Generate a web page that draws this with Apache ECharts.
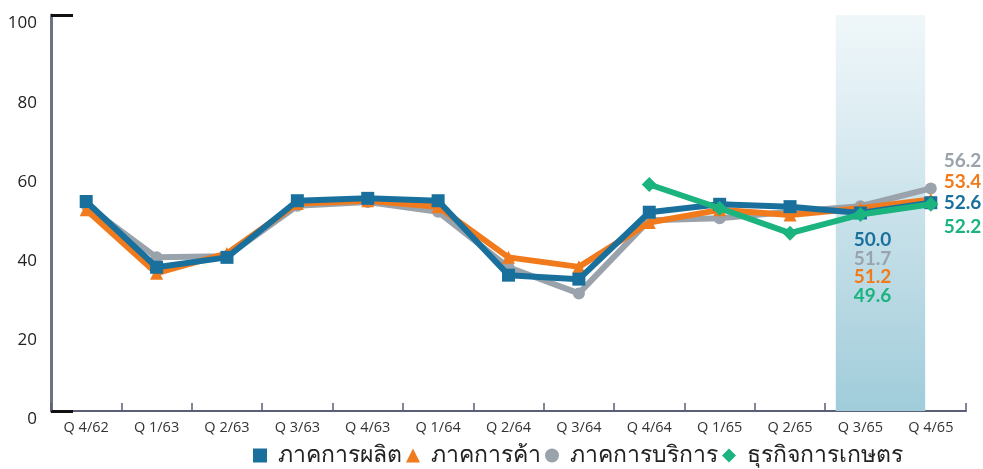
<!DOCTYPE html>
<html>
<head>
<meta charset="utf-8">
<script src="https://cdn.jsdelivr.net/npm/echarts@6/dist/echarts.min.js"></script>
<style>html,body{margin:0;padding:0;background:#fff}#c{width:983px;height:469px}</style>
</head>
<body>
<div id="c"></div>
<script>
const categories = ['Q 4/62','Q 1/63','Q 2/63','Q 3/63','Q 4/63','Q 1/64','Q 2/64','Q 3/64','Q 4/64','Q 1/65','Q 2/65','Q 3/65','Q 4/65'];
const seriesNames = ['ภาคการผลิต','ภาคการค้า','ภาคการบริการ','ธุรกิจการเกษตร'];
const manufacturing = [52.9, 36.3, 38.8, 53.1, 53.7, 53.1, 34.3, 33.3, 50.2, 52.2, 51.6, 50.0, 52.6];
const trade         = [50.8, 34.8, 39.8, 52.4, 53.1, 51.6, 38.8, 36.4, 47.6, 50.8, 49.5, 51.2, 53.4];
const services      = [52.0, 38.8, 39.1, 51.8, 52.8, 50.3, 36.3, 29.7, 48.2, 48.7, 50.3, 51.7, 56.2];
const agriculture   = [null, null, null, null, null, null, null, null, 57.2, 51.2, 44.9, 49.6, 52.2];
const yTicks = [0, 20, 40, 60, 80, 100];
const highlightRange = [11.15, 12.42];

const colors = ['#19709c', '#f07a1c', '#9aa3ac', '#1bb47f'];
const symbols = ['rect', 'triangle', 'circle', 'diamond'];
const symbolSizes = [13, 13, 12, 15];
const zs = [4, 3, 2, 5];
// label offsets for the two last quarters [Q3/65, Q4/65]
const labelOffsets = [
  [[12, 27], [13, 0]],
  [[12, 69], [13, -18]],
  [[12, 53], [13, -28]],
  [[12, 81], [13, 23]]
];
const allData = [manufacturing, trade, services, agriculture];

function buildData(arr, si) {
  return arr.map((v, i) => {
    if (v == null) return null;
    const n = arr.length;
    if (i >= n - 2) {
      const off = labelOffsets[si][i - (n - 2)];
      return {
        value: v,
        label: {
          show: true,
          position: 'inside',
          offset: off,
          align: i === n - 1 ? 'left' : 'center',
          verticalAlign: 'middle',
          formatter: (p) => p.value.toFixed(1),
          color: colors[si],
          fontSize: 19,
          fontWeight: 'bold',
          fontFamily: 'Lato, "Open Sans", sans-serif'
        }
      };
    }
    return v;
  });
}

const series = allData.map((arr, si) => ({
  name: seriesNames[si],
  type: 'line',
  data: buildData(arr, si),
  z: zs[si],
  symbol: symbols[si],
  symbolSize: symbolSizes[si],
  showAllSymbol: true,
  connectNulls: false,
  lineStyle: { color: colors[si], width: 6 },
  itemStyle: { color: colors[si] },
  emphasis: { disabled: true }
}));

series.push({
  type: 'line',
  xAxisIndex: 1,
  data: [],
  silent: true,
  markArea: {
    silent: true,
    itemStyle: {
      color: {
        type: 'linear', x: 0, y: 0, x2: 0, y2: 1,
        colorStops: [
          { offset: 0, color: 'rgba(232,243,247,0.7)' },
          { offset: 0.5, color: 'rgba(198,224,233,0.95)' },
          { offset: 1, color: 'rgba(160,204,218,1)' }
        ]
      }
    },
    data: [[{ xAxis: highlightRange[0] }, { xAxis: highlightRange[1] }]]
  },
  z: 0
});

const chart = echarts.init(document.getElementById('c'), null, { renderer: 'canvas' });
chart.setOption({
  animation: false,
  backgroundColor: '#ffffff',
  grid: { left: 51, right: 17, top: 15, bottom: 58, containLabel: false },
  legend: {
    bottom: -3,
    left: 248,
    itemWidth: 14,
    itemHeight: 14,
    itemGap: 4,
    data: seriesNames.map((n, i) => ({ name: n, icon: symbols[i] })),
    textStyle: { fontSize: 23, fontWeight: 500, color: '#222', fontFamily: '"Noto Sans", sans-serif', padding: [0, 0, 0, 6] }
  },
  xAxis: [{
    type: 'category',
    data: categories,
    boundaryGap: true,
    axisLine: { show: true, lineStyle: { color: '#5a5e76', width: 2 } },
    axisTick: { show: true, inside: true, length: 8, alignWithLabel: false, lineStyle: { color: '#5a5e76', width: 1.5 } },
    axisLabel: { color: '#333', fontSize: 14.5, margin: 9, interval: 0, fontFamily: '"Open Sans", sans-serif' },
    splitLine: { show: false }
  }, {
    type: 'value',
    min: 0, max: 13,
    show: false
  }],
  yAxis: {
    type: 'value',
    min: 0, max: 100, interval: 20,
    axisLine: { show: true, lineStyle: { color: '#6e7282', width: 3 } },
    axisTick: { show: true, inside: true, length: 22, customValues: [0, 100], lineStyle: { color: '#111', width: 3 } },
    axisLabel: {
      color: '#222', fontSize: 17, margin: 14, verticalAlign: 'top',
      customValues: yTicks,
      fontFamily: '"Open Sans", sans-serif'
    },
    splitLine: { show: false }
  },
  series: series
});
</script>
</body>
</html>
